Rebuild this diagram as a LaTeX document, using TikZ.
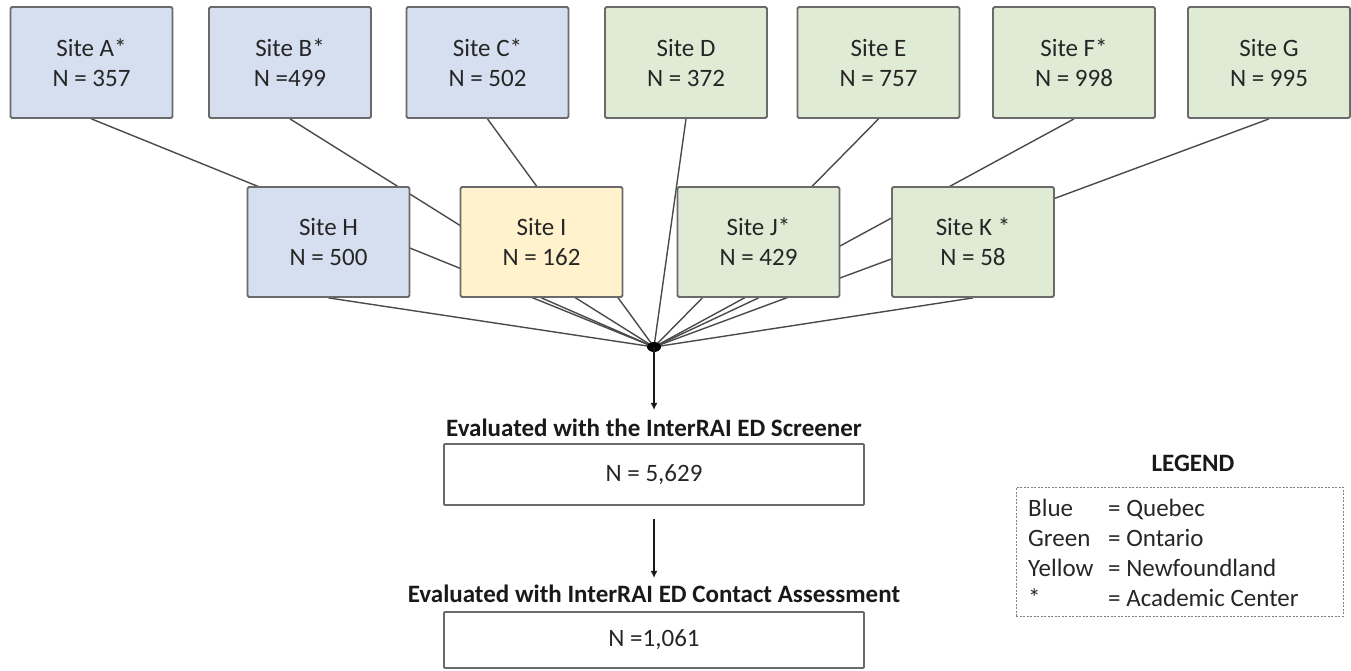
\documentclass[tikz,border=0pt]{standalone}
\usepackage{fontspec}
\setmainfont{Carlito}
\usetikzlibrary{arrows.meta,backgrounds,shapes.geometric}
\definecolor{qblue}{HTML}{D6DFF0}
\definecolor{ogreen}{HTML}{DFEBD5}
\definecolor{nyellow}{HTML}{FFF2CC}
\definecolor{bord}{HTML}{6A6A6A}
\definecolor{txt}{HTML}{262626}
\definecolor{connc}{HTML}{4A4A4A}
\begin{document}
\begin{tikzpicture}[x=1pt,y=-1pt,
  font=\fontsize{25}{30}\selectfont,
  site/.style={draw=bord, line width=1.8pt, rounded corners=1.5pt,
    minimum width=162pt, minimum height=111pt, align=center, text=txt, inner sep=0pt},
  blue/.style={site, fill=qblue},
  green/.style={site, fill=ogreen},
  yellow/.style={site, fill=nyellow},
  mid/.style={minimum height=110pt},
  result/.style={draw=bord, line width=1.8pt, rounded corners=1pt, fill=white,
    minimum width=420pt, text=txt, inner sep=0pt},
  title/.style={font=\fontsize{25}{30}\selectfont\bfseries, text=black!90, inner sep=0pt},
  conn/.style={draw=connc, line width=1.4pt},
  arr/.style={draw=black!90, line width=2pt, -{Latex[length=7pt,width=7pt]}},
  legbox/.style={draw=black!50, line width=1pt, dash pattern=on 2pt off 1.5pt,
    minimum width=327pt, minimum height=129pt, inner sep=0pt},
  legtext/.style={anchor=base west, text=txt, inner sep=0pt}
]
\useasboundingbox (0,0) rectangle (1351,671);

% top row
\node[blue]   (A) at (91.5,62.5)  {Site A*\\N = 357};
\node[blue]   (B) at (290,62.5)   {Site B*\\N =499};
\node[blue]   (C) at (487.5,62.5) {Site C*\\N = 502};
\node[green]  (D) at (686,62.5)   {Site D\\N = 372};
\node[green]  (E) at (878.5,62.5) {Site E\\N = 757};
\node[green]  (F) at (1074,62.5)  {Site F*\\N = 998};
\node[green]  (G) at (1269,62.5)  {Site G\\N = 995};

% middle row
\node[blue,mid]   (H) at (328.5,242) {Site H\\N = 500};
\node[yellow,mid] (I) at (541.5,242) {Site I\\N = 162};
\node[green,mid]  (J) at (758.5,242) {Site J*\\N = 429};
\node[green,mid]  (K) at (973,242)   {Site K *\\N = 58};

% hub
\node[fill=black, ellipse, minimum width=14pt, minimum height=10pt, inner sep=0pt] (hub) at (654,347) {};

\begin{pgfonlayer}{background}
  \foreach \s in {A,B,C,D,E,F,G,H,I,J,K}
    \draw[conn] (\s.south) -- (hub.center);
\end{pgfonlayer}

% results
\node[title] (t1) at (654,428) {Evaluated with the InterRAI ED Screener};
\node[result, minimum height=61pt] (scr) at (654,474.5) {N = 5,629};
\node[title] (t2) at (654,594) {Evaluated with InterRAI ED Contact Assessment};
\node[result, minimum height=56pt] (con) at (654,640) {N =1,061};

\draw[arr, shorten >=9pt] (hub.center) -- (t1.north);
\draw[arr, shorten <=13pt, shorten >=7pt] (scr.south) -- (t2.north);

% legend
\node[title] (lt) at (1193,463) {LEGEND};
\node[legbox] (leg) at (1179.5,551.5) {};
\node[legtext] (l1a) at (1028,516) {Blue};
\node[legtext] (l1b) at (1108,516) {= Quebec};
\node[legtext] (l2a) at (1028,546) {Green};
\node[legtext] (l2b) at (1108,546) {= Ontario};
\node[legtext] (l3a) at (1028,576) {Yellow};
\node[legtext] (l3b) at (1108,576) {= Newfoundland};
\node[legtext] (l4a) at (1028,606) {*};
\node[legtext] (l4b) at (1108,606) {= Academic Center};
\end{tikzpicture}
\end{document}
